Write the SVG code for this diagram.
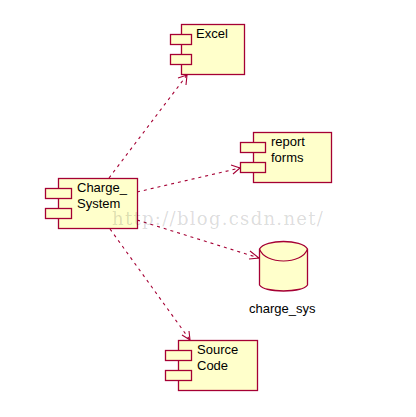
<svg xmlns="http://www.w3.org/2000/svg" width="416" height="417" viewBox="0 0 416 417">
<style>
.b{fill:#ffffcb;stroke:#a50034;stroke-width:1.300}
.t{font-family:"Liberation Sans",Arial,sans-serif;font-size:13px;fill:#000}
.c{fill:none;stroke:#a50034;stroke-width:1.100;stroke-dasharray:3 4}
.h{fill:none;stroke:#a50034;stroke-width:1.100}
.w{font-family:"DejaVu Serif",serif;font-size:18px;fill:#000;fill-opacity:.15;letter-spacing:1.300px}
</style>
<rect width="416" height="417" fill="#fff"/>
<g id="connectors">
<path class="c" d="M109 178L187 75"/><path class="h" d="M178 78L187 75L186 85"/>
<path class="c" d="M137 192L240 168"/><path class="h" d="M231 165L240 168L233 174"/>
<path class="c" d="M137 220L259 258"/><path class="h" d="M250 251L259 258L249 259"/>
<path class="c" d="M110 229L190 340"/><path class="h" d="M189 331L190 340L182 335"/>
</g>
<g id="excel">
<rect class="b" x="181.500" y="24.500" width="63" height="50"/>
<rect class="b" x="170.500" y="34.500" width="21" height="10"/>
<rect class="b" x="170.500" y="54.500" width="21" height="10"/>
<text class="t" x="196" y="38">Excel</text>
</g>
<g id="report-forms">
<rect class="b" x="253.500" y="132.500" width="78" height="50"/>
<rect class="b" x="240.500" y="142.500" width="25" height="10"/>
<rect class="b" x="240.500" y="162.500" width="25" height="10"/>
<text class="t" x="271" y="146">report</text>
<text class="t" x="271" y="162">forms</text>
</g>
<g id="charge-system">
<rect class="b" x="58.500" y="178.500" width="79" height="50"/>
<rect class="b" x="45.500" y="188.500" width="26" height="10"/>
<rect class="b" x="45.500" y="208.500" width="26" height="10"/>
<text class="t" x="77" y="192">Charge_</text>
<text class="t" x="77" y="208">System</text>
</g>
<g id="charge-sys">
<path class="b" d="M259.500 249C265 239 302 239 307.500 249V285C302 293 265 293 259.500 285Z"/>
<path class="h" d="M259.500 249C265 265 302 265 307.500 249"/>
<text class="t" x="249" y="313">charge_sys</text>
</g>
<g id="source-code">
<rect class="b" x="178.500" y="340.500" width="79" height="50"/>
<rect class="b" x="165.500" y="350.500" width="26" height="10"/>
<rect class="b" x="165.500" y="370.500" width="26" height="10"/>
<text class="t" x="197" y="354">Source</text>
<text class="t" x="197" y="370">Code</text>
</g>
<text class="w" x="112" y="225">http://blog.csdn.net/</text>
</svg>
